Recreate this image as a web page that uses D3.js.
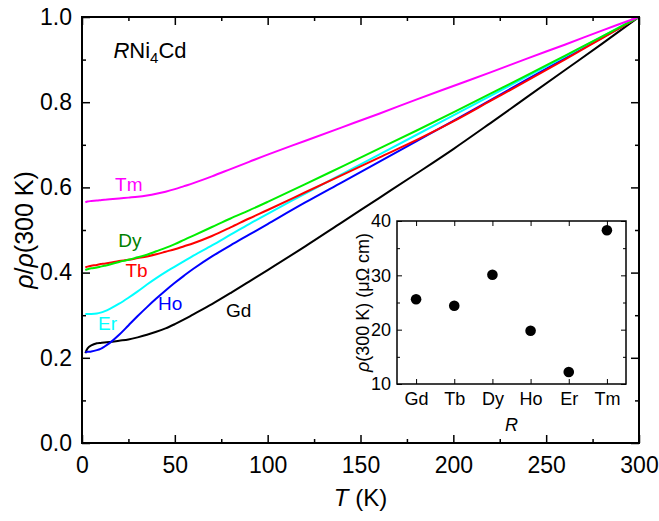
<!DOCTYPE html>
<html>
<head>
<meta charset="utf-8">
<script src="https://cdn.jsdelivr.net/npm/d3@7"></script>
<style>
  html, body { margin: 0; padding: 0; background: #fff; }
  svg { display: block; font-family: "Liberation Sans", Arial, sans-serif; }
</style>
</head>
<body>
<svg id="chart" width="659" height="521"></svg>
<script>
// Temperature grid (K) shared by all resistivity curves
const temps = [1.8, 3, 5, 8, 10, 12, 15, 20, 25, 30, 35, 40, 45, 50, 55, 60, 70, 80, 90, 100, 120, 140, 160, 180, 200, 220, 240, 260, 280, 300];

// Normalised resistivity rho(T)/rho(300 K) for each compound
const rhoGd = [0.211, 0.222, 0.229, 0.234, 0.235, 0.236, 0.237, 0.240, 0.243, 0.248, 0.254, 0.261, 0.269, 0.279, 0.290, 0.302, 0.326, 0.352, 0.379, 0.406, 0.461, 0.518, 0.575, 0.632, 0.690, 0.751, 0.813, 0.875, 0.937, 1.0];
const rhoHo = [0.213, 0.214, 0.215, 0.218, 0.221, 0.226, 0.235, 0.254, 0.276, 0.298, 0.319, 0.339, 0.358, 0.376, 0.393, 0.409, 0.438, 0.464, 0.489, 0.514, 0.564, 0.612, 0.660, 0.708, 0.756, 0.805, 0.854, 0.903, 0.951, 1.0];
const rhoEr = [0.303, 0.303, 0.303, 0.304, 0.306, 0.309, 0.315, 0.327, 0.341, 0.356, 0.372, 0.387, 0.401, 0.414, 0.427, 0.440, 0.464, 0.489, 0.514, 0.538, 0.585, 0.631, 0.677, 0.723, 0.769, 0.815, 0.861, 0.907, 0.954, 1.0];
const rhoTb = [0.412, 0.414, 0.416, 0.418, 0.420, 0.421, 0.423, 0.427, 0.430, 0.434, 0.438, 0.443, 0.449, 0.455, 0.462, 0.469, 0.486, 0.506, 0.527, 0.547, 0.588, 0.629, 0.670, 0.711, 0.755, 0.803, 0.851, 0.900, 0.950, 1.0];
const rhoDy = [0.406, 0.408, 0.410, 0.412, 0.414, 0.416, 0.419, 0.425, 0.430, 0.436, 0.442, 0.450, 0.458, 0.467, 0.477, 0.487, 0.507, 0.527, 0.546, 0.566, 0.607, 0.649, 0.691, 0.733, 0.776, 0.820, 0.864, 0.909, 0.954, 1.0];
const rhoTm = [0.565, 0.567, 0.568, 0.569, 0.570, 0.571, 0.572, 0.574, 0.576, 0.578, 0.581, 0.585, 0.590, 0.596, 0.603, 0.610, 0.626, 0.643, 0.660, 0.677, 0.709, 0.741, 0.773, 0.806, 0.838, 0.870, 0.903, 0.935, 0.968, 1.0];

// Inset: room-temperature resistivity per rare earth
const elements = ["Gd", "Tb", "Dy", "Ho", "Er", "Tm"];
const rho300 = [25.6, 24.4, 30.1, 19.8, 12.2, 38.3];

// Axis ticks
const xTicks = [0, 50, 100, 150, 200, 250, 300];
const xMinor = [25, 75, 125, 175, 225, 275];
const yTicks = [0.0, 0.2, 0.4, 0.6, 0.8, 1.0];
const yMinor = [0.1, 0.3, 0.5, 0.7, 0.9];
const insetTicks = [10, 20, 30, 40];
const insetMinor = [15, 25, 35];

const curves = [
  { name: "Gd", values: rhoGd, line: "#000000", text: "#000000", at: [77.6, 0.296] },
  { name: "Ho", values: rhoHo, line: "#0000ff", text: "#0000ff", at: [40.9, 0.312] },
  { name: "Er", values: rhoEr, line: "#00ffff", text: "#00ffff", at: [8.6, 0.265] },
  { name: "Tb", values: rhoTb, line: "#ff0000", text: "#ff0000", at: [23.4, 0.390] },
  { name: "Dy", values: rhoDy, line: "#00ee00", text: "#008000", at: [19.5, 0.460] },
  { name: "Tm", values: rhoTm, line: "#ff00ff", text: "#ff00ff", at: [17.8, 0.592] }
];

const svg = d3.select("#chart");
const L = 82, R = 639, T = 17, B = 443;

const x = d3.scaleLinear().domain([0, 300]).range([L, R]);
const y = d3.scaleLinear().domain([0, 1]).range([B, T]);

const tickFont = "23px";
const fontFam = "Liberation Sans, Arial, sans-serif";

function styleAxis(g, width) {
  g.select(".domain").remove();
  g.selectAll(".tick line").attr("stroke", "#000").attr("stroke-width", width);
}

// Minor ticks (inward, all four sides)
svg.append("g").attr("transform", `translate(0,${B})`)
  .call(d3.axisBottom(x).tickValues(xMinor).tickSize(-4).tickFormat(""))
  .call(g => styleAxis(g, 1.5));
svg.append("g").attr("transform", `translate(0,${T})`)
  .call(d3.axisTop(x).tickValues(xMinor).tickSize(-4).tickFormat(""))
  .call(g => styleAxis(g, 1.5));
svg.append("g").attr("transform", `translate(${L},0)`)
  .call(d3.axisLeft(y).tickValues(yMinor).tickSize(-4).tickFormat(""))
  .call(g => styleAxis(g, 1.5));
svg.append("g").attr("transform", `translate(${R},0)`)
  .call(d3.axisRight(y).tickValues(yMinor).tickSize(-4).tickFormat(""))
  .call(g => styleAxis(g, 1.5));

// Major ticks with labels
svg.append("g").attr("transform", `translate(0,${B})`)
  .call(d3.axisBottom(x).tickValues(xTicks).tickSize(-8).tickPadding(14).tickFormat(d3.format("d")))
  .call(g => styleAxis(g, 1.5))
  .call(g => g.selectAll("text").attr("font-size", tickFont).attr("fill", "#000").attr("font-family", fontFam));
svg.append("g").attr("transform", `translate(${L},0)`)
  .call(d3.axisLeft(y).tickValues(yTicks).tickSize(-8).tickPadding(10).tickFormat(d3.format(".1f")))
  .call(g => styleAxis(g, 1.5))
  .call(g => g.selectAll("text").attr("font-size", tickFont).attr("fill", "#000").attr("font-family", fontFam));
svg.append("g").attr("transform", `translate(0,${T})`)
  .call(d3.axisTop(x).tickValues(xTicks).tickSize(-8).tickFormat(""))
  .call(g => styleAxis(g, 1.5));
svg.append("g").attr("transform", `translate(${R},0)`)
  .call(d3.axisRight(y).tickValues(yTicks).tickSize(-8).tickFormat(""))
  .call(g => styleAxis(g, 1.5));

// Resistivity curves
const line = d3.line()
  .x((d, i) => x(temps[i]))
  .y(d => y(d))
  .curve(d3.curveCatmullRom.alpha(0.5));

const plot = svg.append("g");
curves.forEach(c => {
  plot.append("path")
    .attr("d", line(c.values))
    .attr("fill", "none")
    .attr("stroke", c.line)
    .attr("stroke-width", 2)
    .attr("stroke-linejoin", "round");
});

// Curve labels
curves.forEach(c => {
  svg.append("text")
    .attr("x", x(c.at[0]))
    .attr("y", y(c.at[1]))
    .attr("font-size", "19px")
    .attr("fill", c.text)
    .text(c.name);
});

// Frame
svg.append("rect")
  .attr("x", L).attr("y", T)
  .attr("width", R - L).attr("height", B - T)
  .attr("fill", "none").attr("stroke", "#000").attr("stroke-width", 2);

// Compound name
const title = svg.append("text")
  .attr("x", x(16.9)).attr("y", y(0.904))
  .attr("font-size", "22px").attr("fill", "#000");
title.append("tspan").attr("font-style", "italic").text("R");
title.append("tspan").text("Ni");
title.append("tspan").attr("font-size", "15px").attr("dy", 5).text("4");
title.append("tspan").attr("dy", -5).text("Cd");

// Axis titles
const xt = svg.append("text")
  .attr("x", (L + R) / 2).attr("y", 506)
  .attr("text-anchor", "middle").attr("font-size", "24px");
xt.append("tspan").attr("font-style", "italic").text("T");
xt.append("tspan").text(" (K)");

const yt = svg.append("text")
  .attr("transform", `translate(33,${(T + B) / 2}) rotate(-90)`)
  .attr("text-anchor", "middle").attr("font-size", "25px");
yt.append("tspan").attr("font-style", "italic").text("ρ");
yt.append("tspan").text("/");
yt.append("tspan").attr("font-style", "italic").text("ρ");
yt.append("tspan").text("(300 K)");

// ---- Inset ----
const iL = 397, iR = 626, iT = 221, iB = 384;
const ix = d3.scalePoint().domain(elements).range([iL, iR]).padding(0.5);
const iy = d3.scaleLinear().domain([10, 40]).range([iB, iT]);
const inset = svg.append("g");

inset.append("rect")
  .attr("x", iL).attr("y", iT).attr("width", iR - iL).attr("height", iB - iT)
  .attr("fill", "#fff");

inset.append("g").attr("transform", `translate(${iL},0)`)
  .call(d3.axisLeft(iy).tickValues(insetMinor).tickSize(-3).tickFormat(""))
  .call(g => styleAxis(g, 1));
inset.append("g").attr("transform", `translate(${iR},0)`)
  .call(d3.axisRight(iy).tickValues(insetMinor).tickSize(-3).tickFormat(""))
  .call(g => styleAxis(g, 1));
inset.append("g").attr("transform", `translate(${iL},0)`)
  .call(d3.axisLeft(iy).tickValues(insetTicks).tickSize(-5).tickPadding(6))
  .call(g => styleAxis(g, 1))
  .call(g => g.selectAll("text").attr("font-size", "18px").attr("fill", "#000").attr("font-family", fontFam));
inset.append("g").attr("transform", `translate(${iR},0)`)
  .call(d3.axisRight(iy).tickValues(insetTicks).tickSize(-5).tickFormat(""))
  .call(g => styleAxis(g, 1));
inset.append("g").attr("transform", `translate(0,${iB})`)
  .call(d3.axisBottom(ix).tickSize(-5).tickPadding(8))
  .call(g => styleAxis(g, 1))
  .call(g => g.selectAll("text").attr("font-size", "18px").attr("fill", "#000").attr("font-family", fontFam));
inset.append("g").attr("transform", `translate(0,${iT})`)
  .call(d3.axisTop(ix).tickSize(-5).tickFormat(""))
  .call(g => styleAxis(g, 1));

inset.selectAll("circle")
  .data(elements)
  .join("circle")
  .attr("cx", d => ix(d))
  .attr("cy", (d, i) => iy(rho300[i]))
  .attr("r", 5.3)
  .attr("fill", "#000");

inset.append("rect")
  .attr("x", iL).attr("y", iT).attr("width", iR - iL).attr("height", iB - iT)
  .attr("fill", "none").attr("stroke", "#000").attr("stroke-width", 1.5);

inset.append("text")
  .attr("x", (iL + iR) / 2).attr("y", 431)
  .attr("text-anchor", "middle").attr("font-size", "18px")
  .attr("font-style", "italic").text("R");

const iyt = inset.append("text")
  .attr("transform", `translate(369,${(iT + iB) / 2}) rotate(-90)`)
  .attr("text-anchor", "middle").attr("font-size", "18px");
iyt.append("tspan").attr("font-style", "italic").text("ρ");
iyt.append("tspan").text("(300 K) (μΩ cm)");
</script>
</body>
</html>
